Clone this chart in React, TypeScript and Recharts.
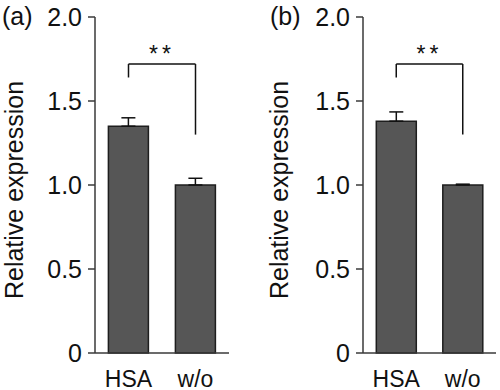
import React from 'react';
import { BarChart, Bar, XAxis, YAxis, ErrorBar, ReferenceLine } from 'recharts';

const categories = ['HSA', 'w/o'];
const yTicks = [0, 0.5, 1, 1.5, 2];

const meansA = [1.35, 1.0];
const errorsA = [0.05, 0.04];
const meansB = [1.38, 1.0];
const errorsB = [0.055, 0.005];

// significance bracket: top line and bottom of each leg
const bracketTop = 1.72;
const bracketLegs = [1.64, 1.3];

const FONT = '"Liberation Sans", Arial, sans-serif';
const AXIS = '#3a3a3a';

interface PanelProps {
  tag: string;
  means: number[];
  errors: number[];
  yAxisWidth: number;
  rightMargin: number;
  labelX: number;
  tagX: number;
}

function Panel({ tag, means, errors, yAxisWidth, rightMargin, labelX, tagX }: PanelProps) {
  const data = categories.map((name, i) => ({
    name,
    value: means[i],
    err: [0, errors[i]],
  }));

  const yLabel = (props: any) => {
    const vb = props.viewBox;
    const cy = vb.y + vb.height / 2 + 5;
    return (
      <g>
        <text x={labelX} y={cy} transform={`rotate(-90 ${labelX} ${cy})`} textAnchor="middle"
          fontSize={25} fill="#111">Relative expression</text>
        <text x={tagX} y={25} fontSize={25} fill="#111">{tag}</text>
      </g>
    );
  };

  return (
    <BarChart width={250} height={390} data={data} barCategoryGap="20%"
      margin={{ top: 17, right: rightMargin, bottom: 0, left: 0 }}>
      <XAxis dataKey="name" height={37} tickLine={false} tickSize={0} tickMargin={18}
        axisLine={{ stroke: AXIS, strokeWidth: 1.5 }}
        tick={{ fontSize: 23, fill: '#111' }} />
      <XAxis xAxisId="top" dataKey="name" orientation="top" height={0} tick={false} tickLine={false}
        axisLine={{ stroke: AXIS, strokeWidth: 1.5 }} />
      <YAxis width={yAxisWidth} domain={[0, 2]} ticks={yTicks} tickSize={7} tickMargin={6}
        tickFormatter={(v: number) => (v === 0 ? '0' : v.toFixed(1))}
        axisLine={{ stroke: AXIS, strokeWidth: 1.5 }} tickLine={{ stroke: AXIS, strokeWidth: 1.5 }}
        tick={{ fontSize: 25, fill: '#111' }}
        label={{ content: yLabel }} />
      <YAxis yAxisId="r" orientation="right" width={0} domain={[0, 2]} tick={false} tickLine={false}
        axisLine={{ stroke: AXIS, strokeWidth: 1.5 }} />
      <Bar dataKey="value" fill="#565656" stroke="#1e1e1e" strokeWidth={1.5} isAnimationActive={false}>
        <ErrorBar dataKey="err" width={7} stroke="#111" strokeWidth={1.5} />
      </Bar>
      <ReferenceLine segment={[{ x: categories[0], y: bracketTop }, { x: categories[1], y: bracketTop }]}
        stroke="#111" strokeWidth={1.5}
        label={{ value: '**', position: 'top', offset: 2, fontSize: 23, fill: '#111', letterSpacing: 4 }} />
      <ReferenceLine segment={[{ x: categories[0], y: bracketLegs[0] }, { x: categories[0], y: bracketTop }]}
        stroke="#111" strokeWidth={1.5} />
      <ReferenceLine segment={[{ x: categories[1], y: bracketLegs[1] }, { x: categories[1], y: bracketTop }]}
        stroke="#111" strokeWidth={1.5} />
    </BarChart>
  );
}

export default function App() {
  return (
    <div style={{ position: 'absolute', left: 0, top: 0, width: 500, height: 390, background: '#fff', fontFamily: FONT }}>
      <div style={{ position: 'absolute', left: 0, top: 0 }}>
        <Panel tag="(a)" means={meansA} errors={errorsA} yAxisWidth={95} rightMargin={21} labelX={23} tagX={2} />
      </div>
      <div style={{ position: 'absolute', left: 250, top: 0 }}>
        <Panel tag="(b)" means={meansB} errors={errorsB} yAxisWidth={113} rightMargin={4} labelX={38} tagX={20} />
      </div>
    </div>
  );
}
